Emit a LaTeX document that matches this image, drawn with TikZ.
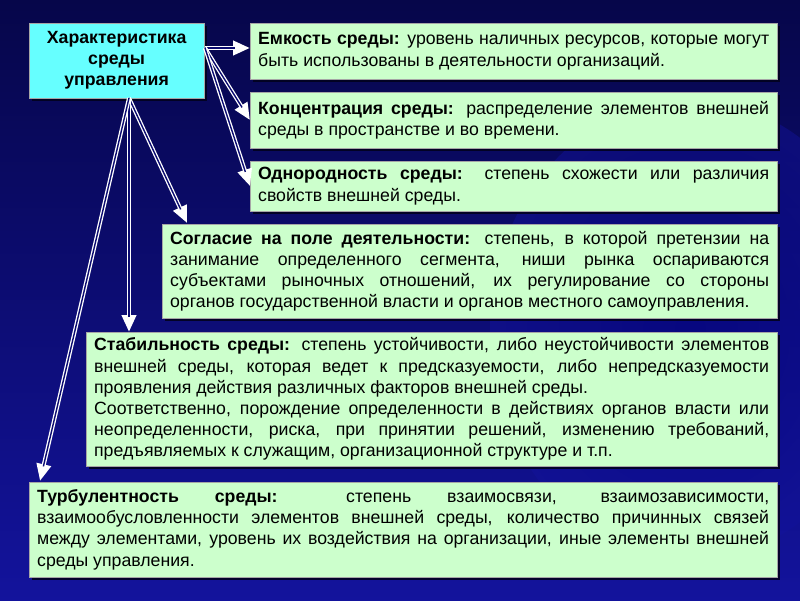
\documentclass[tikz,border=0pt]{standalone}
\usepackage{fontspec}
\setmainfont{Liberation Sans}
\usetikzlibrary{arrows.meta,shadows,calc}
\definecolor{bgtop}{HTML}{06064A}
\definecolor{bgbot}{HTML}{13139C}
\definecolor{boxgreen}{HTML}{CCFFCC}
\definecolor{titlecyan}{HTML}{66FFFF}
\definecolor{shaft}{HTML}{0A0A70}
\definecolor{shadowcol}{HTML}{02021E}
\begin{document}
\begin{tikzpicture}[x=1pt,y=-1pt,
  txtfont/.style={font=\fontsize{17.7}{21.2}\selectfont},
  shadowed/.style={drop shadow={shadow xshift=3pt,shadow yshift=-3pt,fill=shadowcol,opacity=0.9}},
  infobox/.style={draw=black!35,line width=0.3pt,fill=boxgreen,anchor=north west,
    inner xsep=8pt,inner ysep=0pt,align=justify,txtfont,shadowed},
  titlebox/.style={draw=black!35,line width=0.3pt,fill=titlecyan,anchor=north west,
    inner sep=0pt,align=center,minimum width=175pt,minimum height=75pt,
    font=\fontsize{17.7}{21}\selectfont\bfseries,shadowed},
  arrout/.style={white,line width=4pt,-{Triangle[length=17pt,width=14pt]}},
  arrin/.style={shaft,line width=1.4pt,shorten >=15pt}
]
\useasboundingbox (0,0) rectangle (800,600);
\shade[top color=bgtop,bottom color=bgbot] (0,0) rectangle (800,600);
\shade[inner color=blue!55!black,outer color=bgbot,opacity=0.45] (690,330) ellipse (200 and 230);

\tolerance=10000
\hyphenpenalty=10000

\node[titlebox] (t) at (29,23) {Характеристика\\среды\\управления};

\node[infobox,text width=511pt,minimum height=56pt] (b1) at (250,23)
 {\textbf{Емкость среды:} уровень наличных ресурсов, которые могут\linebreak быть использованы в деятельности организаций.};
\node[infobox,text width=511pt,minimum height=56pt] (b2) at (250,92)
 {\textbf{Концентрация среды:} распределение элементов внешней\linebreak среды в пространстве и во времени.};
\node[infobox,text width=511pt,minimum height=50pt] (b3) at (250,161)
 {\textbf{Однородность среды:} степень схожести или различия\linebreak свойств внешней среды.};
\node[infobox,text width=599pt,minimum height=94pt] (b4) at (162,224)
 {\textbf{Согласие на поле деятельности:} степень, в которой претензии на\linebreak занимание определенного сегмента, ниши рынка оспариваются\linebreak субъектами рыночных отношений, их регулирование со стороны\linebreak органов государственной власти и органов местного самоуправления.};
\node[infobox,text width=675pt,minimum height=134pt] (b5) at (86,332)
 {\textbf{Стабильность среды:} степень устойчивости, либо неустойчивости элементов\linebreak внешней среды, которая ведет к предсказуемости, либо непредсказуемости\linebreak проявления действия различных факторов внешней среды.\\
 Соответственно, порождение определенности в действиях органов власти или\linebreak неопределенности, риска, при принятии решений, изменению требований,\linebreak предъявляемых к служащим, организационной структуре и т.п.};
\node[infobox,text width=732pt,minimum height=95pt] (b6) at (29,482)
 {\textbf{Турбулентность среды:} степень взаимосвязи, взаимозависимости,\linebreak взаимообусловленности элементов внешней среды, количество причинных связей\linebreak между элементами, уровень их воздействия на организации, иные элементы внешней\linebreak среды управления.};

\coordinate (o1) at (205,48);
\coordinate (o2) at (129,98);
\coordinate (e1) at (b1.west |- o1);
\coordinate (e4) at ($(b4.north west)+(25,-1)$);
\coordinate (e5) at (b5.north west -| o2);
\coordinate (e6) at ($(b6.north west)+(11,-1)$);

\foreach \s/\e in {o1/e1,o1/b2.west,o1/b3.west,o2/e4,o2/e5,o2/e6}{
  \draw[arrout] (\s) -- (\e);
  \draw[arrin] (\s) -- (\e);
}
\end{tikzpicture}
\end{document}
